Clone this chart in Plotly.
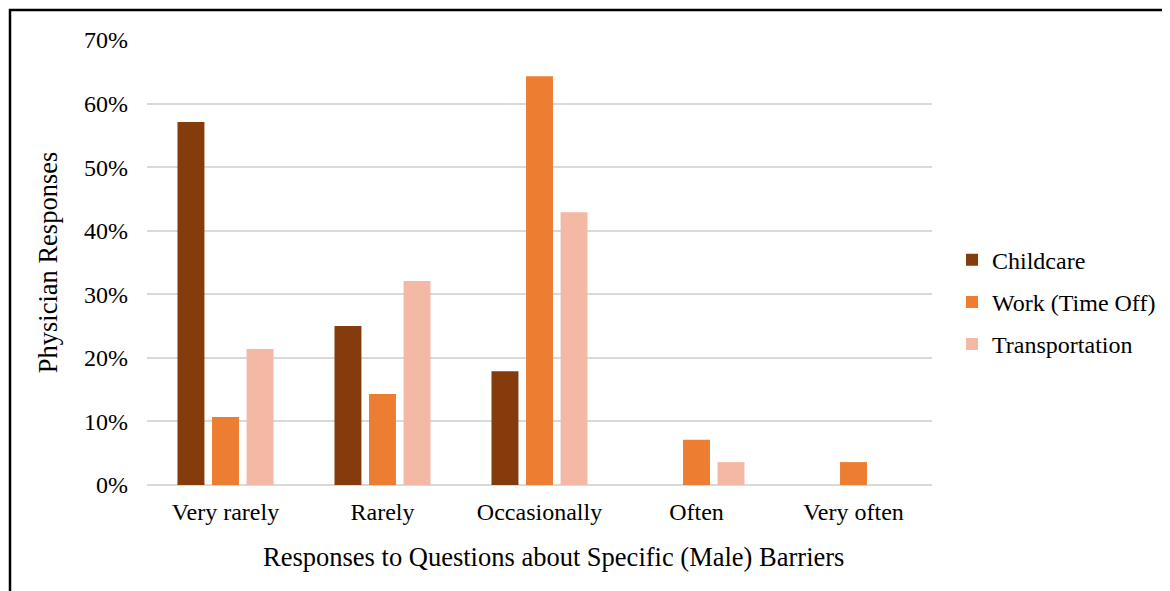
import plotly.graph_objects as go

categories = ["Very rarely", "Rarely", "Occasionally", "Often", "Very often"]
childcare = [57.1, 25.0, 17.9, 0, 0]
work_time_off = [10.7, 14.3, 64.3, 7.1, 3.6]
transportation = [21.4, 32.1, 42.9, 3.6, 0]
series_names = ["Childcare", "Work (Time Off)", "Transportation"]
colors = ["#843C0C", "#ED7D31", "#F4B9A5"]
x_title = "Responses to Questions about Specific (Male) Barriers"
y_title = "Physician Responses"

FONT = "Liberation Serif, Times New Roman, serif"

fig = go.Figure()
for name, vals, col in zip(series_names, [childcare, work_time_off, transportation], colors):
    fig.add_trace(go.Bar(
        x=categories, y=vals, name=name, legendgroup=name,
        marker=dict(color=col, line=dict(width=0)),
    ))

W, H = 1170, 591
L, R, T, B = 139, 246, 32, 114
pw, ph = W - L - R, H - T - B
bx = (2 - L) / pw
by = (H - B - 2) / ph

fig.update_layout(
    width=W, height=H,
    margin=dict(l=L, r=R, t=T, b=B, autoexpand=False),
    paper_bgcolor="white", plot_bgcolor="white",
    font=dict(family=FONT, size=24, color="black"),
    barmode="group", bargap=0.34, bargroupgap=0.22,
    showlegend=True,
    legend=dict(x=1.0255, y=0.411, xanchor="left", yanchor="middle",
                font=dict(family=FONT, size=24), tracegroupgap=8,
                itemwidth=30),
    xaxis=dict(
        showgrid=False, showline=False, ticks="",
        tickfont=dict(family=FONT, size=24),
        ticklabelstandoff=10,
    ),
    yaxis=dict(
        range=[0, 70], dtick=10, ticksuffix="%",
        showgrid=True, gridcolor="#D9D9D9", gridwidth=2,
        zeroline=True, zerolinecolor="#D9D9D9", zerolinewidth=2,
        showline=False, ticks="",
        tickfont=dict(family=FONT, size=24),
        ticklabelstandoff=18,
        title=dict(text=y_title, font=dict(family=FONT, size=26.5), standoff=18),
    ),
    annotations=[dict(text=x_title, xref="paper", yref="paper",
                      x=(545 - L) / pw, y=(H - B - 549) / ph,
                      xanchor="center", yanchor="middle", showarrow=False,
                      font=dict(family=FONT, size=26.5, color="black"))],
    shapes=[dict(type="path", xref="paper", yref="paper",
                 path=f"M {bx} -1 L {bx} {by} L 2 {by}",
                 line=dict(color="black", width=2.5))],
)

fig.write_html("out.html")
